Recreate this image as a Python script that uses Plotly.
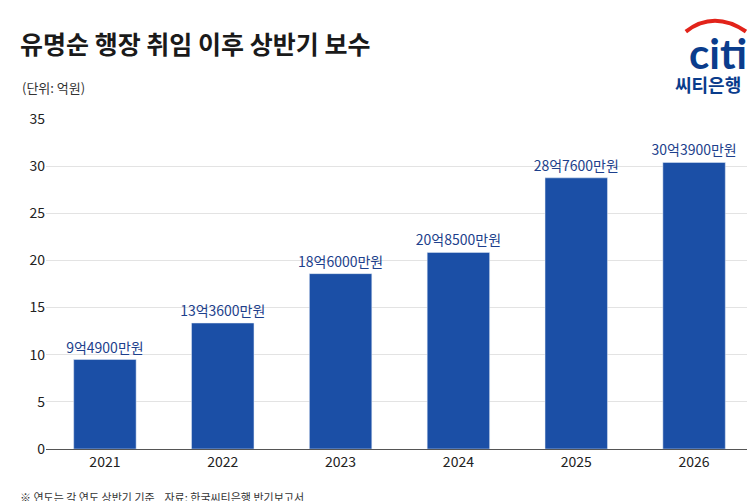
import plotly.graph_objects as go

years = ["2021", "2022", "2023", "2024", "2025", "2026"]
pay = [9.49, 13.36, 18.60, 20.85, 28.76, 30.39]
pay_labels = ["9억4900만원", "13억3600만원", "18억6000만원", "20억8500만원", "28억7600만원", "30억3900만원"]

font = "Noto Sans CJK KR"

fig = go.Figure(go.Bar(
    x=years, y=pay, text=pay_labels, textposition="outside", constraintext="none",
    textfont=dict(family=font, size=14, color="#1d3f8c"),
    marker_color="#1b4fa6", width=0.53, cliponaxis=False,
))

fig.update_layout(
    width=755, height=501,
    margin=dict(l=38, r=10, t=111, b=60),
    paper_bgcolor="white", plot_bgcolor="white",
    font=dict(family=font, color="#222"),
    showlegend=False,
    xaxis=dict(tickfont=dict(size=14, color="#222"), showline=True, linecolor="#555",
               ticks="", showgrid=False),
    yaxis=dict(range=[0, 35], dtick=5, tickfont=dict(size=14, color="#222"),
               showgrid=True, gridcolor="#e3e3e3", zeroline=False, ticks=""),
    annotations=[
        dict(text="<b>유명순 행장 취임 이후 상반기 보수</b>", x=-0.04, y=1.23, xref="paper", yref="paper",
             xanchor="left", yanchor="middle", showarrow=False, font=dict(size=25, color="#1a1a1a")),
        dict(text="(단위: 억원)", x=-0.037, y=1.094, xref="paper", yref="paper",
             xanchor="left", yanchor="middle", showarrow=False, font=dict(size=13, color="#333")),
        dict(text="※ 연도는 각 연도 상반기 기준    자료: 한국씨티은행 반기보고서", x=-0.04, y=-0.145,
             xref="paper", yref="paper", xanchor="left", yanchor="middle", showarrow=False,
             font=dict(size=11, color="#333")),
        dict(text="<b>citi</b>", x=0.995, y=1.2, xref="paper", yref="paper", xanchor="right",
             yanchor="middle", showarrow=False, font=dict(family="Lato", size=42, color="#0a3c8c")),
        dict(text="<b>씨티은행</b>", x=0.986, y=1.105, xref="paper", yref="paper", xanchor="right",
             yanchor="middle", showarrow=False, font=dict(size=18, color="#0a3c8c")),
    ],
    shapes=[
        dict(type="path", xref="paper", yref="paper",
             path="M 0.905 1.265 Q 0.945 1.33 0.99 1.265",
             line=dict(color="#e2231a", width=4)),
    ],
)

fig.write_html("out.html")
